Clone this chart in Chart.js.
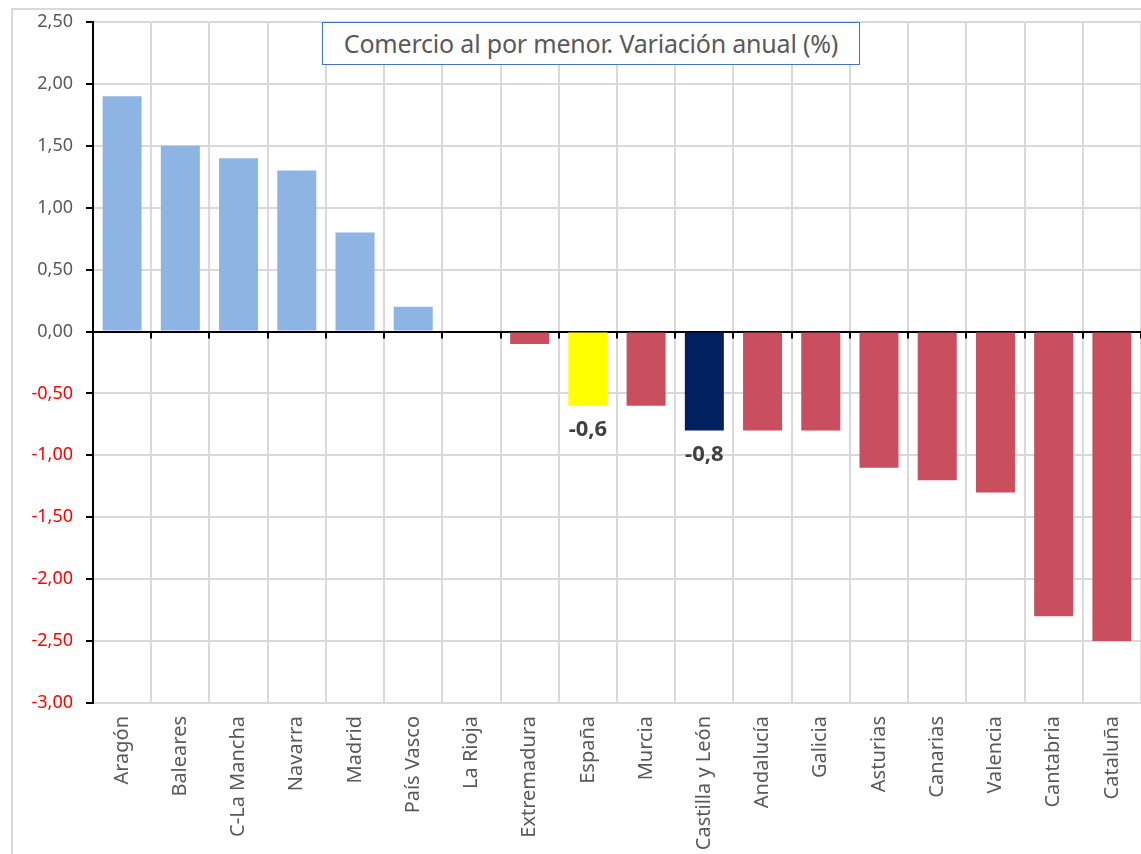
<!DOCTYPE html>
<html>
<head>
<meta charset="utf-8">
<script src="https://cdn.jsdelivr.net/npm/chart.js@4/dist/chart.umd.min.js"></script>
<style>
    html, body { margin: 0; padding: 0; background: #fff; }
    #wrap { position: relative; width: 1141px; height: 854px; overflow: hidden; }
    #frame { position: absolute; left: 11px; top: 8px; width: 1200px; height: 900px;
             border-left: 2px solid #d9d9d9; border-top: 2px solid #d9d9d9; box-sizing: border-box; }
    #chart { position: absolute; left: 0; top: 0; }
    #title { position: absolute; left: 322px; top: 22px; width: 538px; height: 43px;
             border: 1.5px solid #4472c4; background: #fff; box-sizing: border-box;
             font-family: "Noto Sans", sans-serif; font-size: 25px; color: #595959;
             text-align: center; line-height: 40px; white-space: nowrap; letter-spacing: -0.2px; }
</style>
</head>
<body>
<div id="wrap">
    <div id="frame"></div>
    <canvas id="chart" width="1141" height="854"></canvas>
    <div id="title">Comercio al por menor. Variación anual (%)</div>
</div>
<script>
// Datos
const regions = ["Aragón", "Baleares", "C-La Mancha", "Navarra", "Madrid", "País Vasco", "La Rioja",
    "Extremadura", "España", "Murcia", "Castilla y León", "Andalucía", "Galicia", "Asturias",
    "Canarias", "Valencia", "Cantabria", "Cataluña"];
const variation = [1.9, 1.5, 1.4, 1.3, 0.8, 0.2, 0, -0.1, -0.6, -0.6, -0.8, -0.8, -0.8, -1.1,
    -1.2, -1.3, -2.3, -2.5];
const labelled = ["España", "Castilla y León"];

const fmt = (v, d) => v.toFixed(d).replace(".", ",");

function barColor(name, v) {
    if (name === "España") return "#FFFF00";
    if (name === "Castilla y León") return "#002060";
    return v >= 0 ? "#8EB4E3" : "#C94F5F";
}

// ticks hacia abajo sobre la línea del cero
const zeroTicks = {
    id: "zeroTicks",
    afterDatasetsDraw(chart) {
        const ctx = chart.ctx, x = chart.scales.x, y0 = chart.scales.y.getPixelForValue(0);
        ctx.save();
        ctx.strokeStyle = "#000";
        ctx.lineWidth = 2;
        for (let i = 0; i <= regions.length; i++) {
            const px = Math.round(x.getPixelForValue(i - 0.5));
            ctx.beginPath();
            ctx.moveTo(px, y0);
            ctx.lineTo(px, y0 + 7);
            ctx.stroke();
        }
        ctx.restore();
    }
};

// etiquetas de España y Castilla y León
const barLabels = {
    id: "barLabels",
    afterDatasetsDraw(chart) {
        const ctx = chart.ctx, meta = chart.getDatasetMeta(0);
        ctx.save();
        ctx.font = "bold 22px 'Noto Sans'";
        ctx.fillStyle = "#404040";
        ctx.textAlign = "center";
        ctx.textBaseline = "top";
        regions.forEach((r, i) => {
            if (!labelled.includes(r)) return;
            const bar = meta.data[i];
            ctx.fillText(fmt(variation[i], 1), bar.x, bar.y + 13);
        });
        ctx.restore();
    }
};

new Chart(document.getElementById("chart").getContext("2d"), {
    type: "bar",
    data: {
        labels: regions,
        datasets: [{
            data: variation,
            backgroundColor: regions.map((r, i) => barColor(r, variation[i])),
            categoryPercentage: 1,
            barPercentage: 0.67
        }]
    },
    options: {
        responsive: false,
        animation: false,
        layout: { padding: { left: 0, top: 22, right: 0, bottom: 0 } },
        plugins: { legend: { display: false }, tooltip: { enabled: false } },
        scales: {
            x: {
                offset: true,
                grid: { offset: true, color: "#d9d9d9", lineWidth: 2, drawTicks: false },
                border: { display: false },
                ticks: {
                    minRotation: 90, maxRotation: 90, padding: 13, autoSkip: false,
                    color: "#595959", font: { family: "Noto Sans", size: 20 }
                },
                afterFit(scale) {
                    scale.height = 151;
                    scale.paddingLeft = 0;
                    scale.paddingRight = 0;
                }
            },
            y: {
                min: -3, max: 2.5,
                ticks: {
                    stepSize: 0.5, padding: 13,
                    color: (c) => c.tick.value < 0 ? "#FF0000" : "#595959",
                    font: { family: "Noto Sans", size: 18 },
                    callback: (v) => fmt(v, 2)
                },
                grid: {
                    color: (c) => c.tick.value === 0 ? "#000" : "#d9d9d9",
                    lineWidth: 2, tickColor: "#000", tickLength: 7
                },
                border: { color: "#000", width: 2 },
                afterFit(scale) {
                    scale.width = 93;
                    scale.paddingTop = 0;
                    scale.paddingBottom = 0;
                }
            }
        }
    },
    plugins: [zeroTicks, barLabels]
});
</script>
</body>
</html>
